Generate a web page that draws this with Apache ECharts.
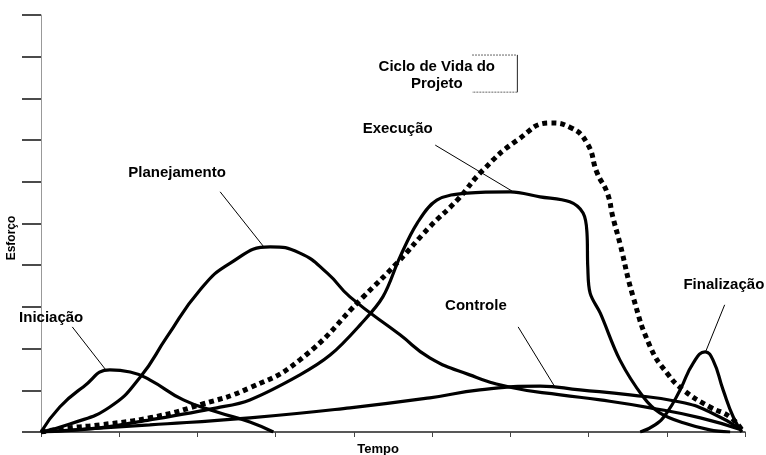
<!DOCTYPE html>
<html>
<head>
<meta charset="utf-8">
<script src="https://cdn.jsdelivr.net/npm/echarts@6/dist/echarts.min.js"></script>
<style>
  html, body { margin: 0; padding: 0; background: #fff; }
  #chart { width: 766px; height: 455px; }
</style>
</head>
<body>
<div id="chart"></div>
<script>
// Ciclo de vida do projeto: esforço de cada fase ao longo do tempo.
// eixo x: tempo (0-90), eixo y: esforço (0-100), sem rótulos numéricos
const iniciacao = [[0,0],[2.4,6.0],[5.4,10.8],[8.8,14.9],[11.4,14.4],[13.9,12.5],[18.2,7.7],[22.5,4.8],[26.7,2.4],[29.7,0]];
const planejamento = [[0,0],[3.7,1.9],[8.8,6.0],[12.7,13.2],[16.1,22.8],[20.3,34.0],[24.2,40.5],[29.3,44.4],[33.1,42.9],[36.6,38.1],[39.5,32.4],[45.9,23.3],[49.7,17.8],[54.8,13.7],[60.3,10.6],[66.4,8.9],[71.5,7.7],[77.9,5.8],[84.3,3.4],[89.6,0.5]];
const execucao = [[0,0],[7.5,1.0],[13.9,2.9],[22.5,5.8],[26.7,7.7],[33.1,13.7],[37.0,18.5],[40.8,25.7],[43.7,32.4],[45.9,42.0],[48.1,50.1],[50.6,55.6],[54.5,57.3],[60.0,57.6],[63.8,56.4],[67.6,55.2],[69.3,52.5],[69.8,47.7],[69.9,39.6],[70.2,33.3],[71.5,28.5],[74.0,17.3],[77.0,8.4],[79.1,4.6],[82.1,2.2],[85.5,0.5],[88.1,0]];
const controle = [[0,0],[13.9,1.7],[26.7,3.4],[39.5,5.8],[49.7,8.2],[56.1,10.1],[63.8,11.0],[68.9,10.1],[75.3,8.9],[81.7,7.2],[85.5,4.8],[89.6,0.5]];
const finalizacao = [[76.6,0],[78.5,1.7],[80.0,4.6],[81.7,10.1],[83.4,16.6],[84.9,19.2],[85.9,17.3],[87.2,10.1],[88.5,3.6],[89.6,0]];
const cicloDeVida = [[0,0],[3.7,1.0],[7.5,1.7],[13.9,3.4],[20.3,6.5],[26.7,10.6],[33.1,17.3],[41.2,32.4],[45.5,40.5],[49.7,49.2],[53.2,55.6],[56.5,62.8],[60.9,70.0],[65.1,74.1],[67.6,73.1],[69.8,69.3],[71.1,62.1],[72.4,57.3],[73.1,51.6],[74.0,45.3],[75.7,32.4],[77.9,20.4],[80.0,14.2],[82.1,10.1],[85.5,6.0],[88.1,3.6],[89.6,0.5]];

// rótulos: texto, posição do texto, linha de chamada (de -> até), em unidades de dados
const labels = [
  { text: 'Iniciação',    at: [1.3, 27.3],  from: [4.0, 25.2],  to: [8.2, 15.1] },
  { text: 'Planejamento', at: [17.4, 62.1], from: [22.9, 57.6], to: [28.4, 44.6] },
  { text: 'Execução',     at: [45.6, 72.7], from: [50.4, 68.8], to: [60.2, 57.8] },
  { text: 'Controle',     at: [55.6, 30.2], from: [61.0, 25.2], to: [65.7, 10.8] },
  { text: 'Finalização',  at: [87.3, 35.3], from: [87.4, 30.5], to: [85.0, 19.4] },
];
const cicloTitle = ['Ciclo de Vida do', 'Projeto'];
const cicloTitleAt = [50.6, 85.6];
const cicloBox = [[55.1, 90.4], [60.9, 90.4], [60.9, 81.5], [55.1, 81.5]];

const FONT = '"Liberation Sans", Arial, sans-serif';
const chart = echarts.init(document.getElementById('chart'));

const solid = (name, data, smooth) => ({
  name, type: 'line', data, smooth: smooth ?? 0.5, symbol: 'none',
  lineStyle: { color: '#000', width: 3.2 }, z: 3,
});

chart.setOption({
  animation: false,
  backgroundColor: '#fff',
  grid: { left: 41, right: 21, top: 15, bottom: 23 },
  xAxis: {
    type: 'value', min: 0, max: 90, interval: 10,
    axisLine: { lineStyle: { color: '#222', width: 1.5 } },
    axisTick: { show: true, length: 5, lineStyle: { color: '#444', width: 1 } },
    axisLabel: { show: false },
    splitLine: { show: false },
  },
  yAxis: {
    type: 'value', min: 0, max: 100, interval: 10,
    axisLine: { show: true, lineStyle: { color: '#999', width: 1 } },
    axisTick: { show: true, length: 19, lineStyle: { color: '#111', width: 1.5 } },
    axisLabel: { show: false },
    splitLine: { show: false },
  },
  series: [
    solid('Iniciação', iniciacao),
    solid('Planejamento', planejamento),
    solid('Execução', execucao, 0.35),
    solid('Controle', controle),
    solid('Finalização', finalizacao),
    {
      name: 'Ciclo de Vida do Projeto', type: 'line', data: cicloDeVida,
      smooth: 0.5, symbol: 'none', z: 4,
      lineStyle: { color: '#000', width: 5, type: [5, 4], cap: 'butt' },
    },
  ],
});

// textos e linhas de chamada
const px = p => chart.convertToPixel({ gridIndex: 0 }, p);
const graphic = [];
labels.forEach(l => {
  const [tx, ty] = px(l.at);
  const [x1, y1] = px(l.from);
  const [x2, y2] = px(l.to);
  graphic.push({
    type: 'text', z: 10,
    style: { text: l.text, x: tx, y: ty, font: `bold 15px ${FONT}`, fill: '#000', align: 'center', verticalAlign: 'middle' },
  });
  graphic.push({
    type: 'line', z: 10,
    shape: { x1, y1, x2, y2 },
    style: { stroke: '#000', lineWidth: 1 },
  });
});
const [cx, cy] = px(cicloTitleAt);
graphic.push({
  type: 'text', z: 10,
  style: { text: cicloTitle.join('\n'), x: cx, y: cy, font: `bold 15px ${FONT}`, lineHeight: 17, fill: '#000', align: 'center', verticalAlign: 'middle' },
});
const box = cicloBox.map(px);
graphic.push({
  type: 'polyline', z: 10, shape: { points: [box[0], box[1]] },
  style: { stroke: '#666', lineWidth: 1, lineDash: [2, 1] },
});
graphic.push({
  type: 'polyline', z: 10, shape: { points: [box[1], box[2]] },
  style: { stroke: '#222', lineWidth: 1 },
});
graphic.push({
  type: 'polyline', z: 10, shape: { points: [box[2], box[3]] },
  style: { stroke: '#666', lineWidth: 1, lineDash: [2, 1] },
});
// nomes dos eixos
graphic.push({
  type: 'text', z: 10, x: 12, y: 238, rotation: Math.PI / 2,
  style: { text: 'Esforço', x: 0, y: 0, font: `bold 12px ${FONT}`, fill: '#000', align: 'center', verticalAlign: 'middle' },
});
graphic.push({
  type: 'text', z: 10,
  style: { text: 'Tempo', x: 378, y: 449, font: `bold 13px ${FONT}`, fill: '#000', align: 'center', verticalAlign: 'middle' },
});
chart.setOption({ graphic });
</script>
</body>
</html>
